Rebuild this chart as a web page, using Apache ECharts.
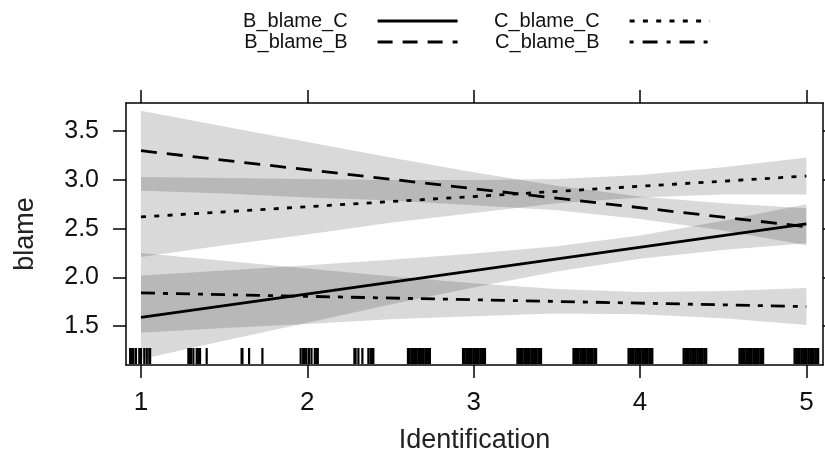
<!DOCTYPE html>
<html>
<head>
<meta charset="utf-8">
<script src="https://cdn.jsdelivr.net/npm/echarts@6/dist/echarts.min.js"></script>
<style>html,body{margin:0;padding:0;background:#fff}#c{width:825px;height:459px}</style>
</head>
<body>
<div id="c"></div>
<script>
// ---- data ----
const seriesNames = ['B_blame_C', 'B_blame_B', 'C_blame_C', 'C_blame_B'];
const lineX = [1, 5];
const B_blame_C = [1.59, 2.55];
const B_blame_B = [3.30, 2.52];
const C_blame_C = [2.62, 3.04];
const C_blame_B = [1.84, 1.70];

const bandX = [1, 1.5, 2, 2.5, 3, 3.5, 4, 4.5, 5];
const B_blame_C_lower = [1.16, 1.35, 1.535, 1.72, 1.895, 2.06, 2.19, 2.28, 2.35];
const B_blame_C_upper = [2.02, 2.07, 2.125, 2.18, 2.245, 2.32, 2.43, 2.58, 2.75];
const B_blame_B_lower = [2.89, 2.86, 2.82, 2.79, 2.74, 2.69, 2.60, 2.48, 2.33];
const B_blame_B_upper = [3.71, 3.55, 3.39, 3.23, 3.08, 2.94, 2.83, 2.76, 2.71];
const C_blame_C_lower = [2.21, 2.33, 2.44, 2.56, 2.66, 2.76, 2.82, 2.85, 2.85];
const C_blame_C_upper = [3.03, 3.02, 3.01, 3.00, 3.00, 3.01, 3.05, 3.13, 3.23];
const C_blame_B_lower = [1.43, 1.48, 1.52, 1.57, 1.60, 1.63, 1.62, 1.58, 1.51];
const C_blame_B_upper = [2.25, 2.17, 2.09, 2.01, 1.94, 1.88, 1.85, 1.86, 1.89];

// rug of observed Identification values (jittered)
const rugX = [
  0.935, 0.945, 0.955, 0.97, 0.99, 1.0, 1.02, 1.035, 1.05, 1.055,
  1.285, 1.29, 1.30, 1.315, 1.335, 1.345, 1.355, 1.395,
  1.605, 1.61, 1.65, 1.73,
  1.96, 1.975, 1.985, 1.995, 2.01, 2.025, 2.045, 2.055, 2.063,
  2.283, 2.29, 2.307, 2.331, 2.367, 2.38, 2.39, 2.397,
  2.605, 2.615, 2.626, 2.636, 2.647, 2.657, 2.668, 2.678, 2.689, 2.699, 2.71, 2.72, 2.731, 2.737,
  2.936, 2.946, 2.957, 2.967, 2.978, 2.988, 2.999, 3.009, 3.02, 3.03, 3.041, 3.051, 3.062, 3.068,
  3.263, 3.273, 3.284, 3.294, 3.305, 3.315, 3.326, 3.336, 3.347, 3.357, 3.368, 3.378, 3.389, 3.399, 3.405,
  3.600, 3.610, 3.621, 3.631, 3.642, 3.652, 3.663, 3.673, 3.684, 3.694, 3.705, 3.715, 3.726, 3.736,
  3.931, 3.941, 3.952, 3.962, 3.973, 3.983, 3.994, 4.004, 4.015, 4.025, 4.036, 4.046, 4.057, 4.067, 4.074,
  4.262, 4.272, 4.283, 4.293, 4.304, 4.314, 4.325, 4.335, 4.346, 4.356, 4.367, 4.377, 4.388, 4.398,
  4.598, 4.608, 4.619, 4.629, 4.640, 4.650, 4.661, 4.671, 4.682, 4.692, 4.703, 4.713, 4.724, 4.734, 4.740,
  4.929, 4.939, 4.950, 4.960, 4.971, 4.981, 4.992, 5.002, 5.013, 5.023, 5.034, 5.044, 5.055, 5.065, 5.071
];

const xTicks = [1, 2, 3, 4, 5];
const yTicks = [1.5, 2.0, 2.5, 3.0, 3.5];
const xMin = 0.91, xMax = 5.10, yMin = 1.10, yMax = 3.79;

// ---- chart ----
const FONT = 'Liberation Sans, Arial, sans-serif';
const bands = [
  [B_blame_C_lower, B_blame_C_upper],
  [B_blame_B_lower, B_blame_B_upper],
  [C_blame_C_lower, C_blame_C_upper],
  [C_blame_B_lower, C_blame_B_upper]
];
const lineValues = [B_blame_C, B_blame_B, C_blame_C, C_blame_B];
const dashes = ['solid', [16, 10], [5, 8.3], [14, 8, 5, 8]];
const legendDashes = ['solid', [15, 10], [5, 8.3], [4, 9, 15, 9]];

const axisLineStyle = { color: '#000', width: 1.5 };
function xAxisDef(pos, withLabels) {
  return {
    type: 'value', min: xMin, max: xMax, position: pos,
    axisLine: { show: true, onZero: false, lineStyle: axisLineStyle },
    axisTick: { show: true, length: 13, customValues: xTicks, lineStyle: axisLineStyle },
    axisLabel: { show: withLabels, customValues: xTicks, margin: 25, fontSize: 26, color: '#111', fontFamily: FONT },
    splitLine: { show: false },
    name: withLabels ? 'Identification' : '',
    nameLocation: 'middle', nameGap: 62,
    nameTextStyle: { fontSize: 27, color: '#222', fontFamily: FONT }
  };
}
function yAxisDef(pos, withLabels) {
  return {
    type: 'value', min: yMin, max: yMax, position: pos,
    axisLine: { show: true, onZero: false, lineStyle: axisLineStyle },
    axisTick: { show: true, length: 13, customValues: yTicks, lineStyle: axisLineStyle },
    axisLabel: { show: withLabels, customValues: yTicks, margin: 27, fontSize: 25, color: '#111', fontFamily: FONT,
      formatter: v => v.toFixed(1) },
    splitLine: { show: false },
    name: withLabels ? 'blame' : '',
    nameLocation: 'middle', nameGap: 87,
    nameTextStyle: { fontSize: 27, color: '#222', fontFamily: FONT }
  };
}

const legendPos = [
  { right: 366, top: 11 },
  { right: 366, top: 32 },
  { right: 114, top: 11 },
  { right: 114, top: 32 }
];
const legends = seriesNames.map((n, i) => ({
  data: [n], right: legendPos[i].right, top: legendPos[i].top,
  align: 'right', orient: 'horizontal', padding: 0,
  itemWidth: 80, itemHeight: 14, selectedMode: false,
  itemStyle: { opacity: 0, color: 'rgba(0,0,0,0)', borderColor: 'rgba(0,0,0,0)', borderWidth: 0 },
  lineStyle: { type: legendDashes[i], width: 2.8, color: '#000', cap: 'butt' },
  textStyle: { fontSize: 20, color: '#111', fontFamily: FONT, padding: [0, 25, 0, 0] }
}));

const series = [];
series.push({
  name: 'bands', type: 'custom', silent: true, z: 1,
  xAxisIndex: 0, yAxisIndex: 0,
  data: bands.map(b => [bandX[0], b[0][0]]),
  encode: { x: 0, y: 1 },
  renderItem: function (params, api) {
    const b = bands[params.dataIndex];
    const pts = [];
    for (let i = 0; i < bandX.length; i++) pts.push(api.coord([bandX[i], b[1][i]]));
    for (let i = bandX.length - 1; i >= 0; i--) pts.push(api.coord([bandX[i], b[0][i]]));
    return { type: 'polygon', shape: { points: pts }, style: { fill: 'rgba(0,0,0,0.15)' } };
  }
});
seriesNames.forEach((n, i) => {
  series.push({
    name: n, type: 'line', silent: true, z: 3, symbol: 'none',
    data: lineX.map((x, j) => [x, lineValues[i][j]]),
    lineStyle: { color: '#000', width: 2.8, type: dashes[i], cap: 'butt' },
    itemStyle: { color: '#000' }
  });
});
series.push({
  name: 'rug', type: 'custom', silent: true, z: 4,
  xAxisIndex: 0, yAxisIndex: 0,
  data: rugX.map(v => [v, yMin]),
  encode: { x: 0, y: 1 },
  renderItem: function (params, api) {
    const p = api.coord([api.value(0), api.value(1)]);
    return { type: 'line', shape: { x1: p[0], y1: p[1] - 1, x2: p[0], y2: p[1] - 17 },
      style: { stroke: '#000', lineWidth: 2.2 } };
  }
});

const chart = echarts.init(document.getElementById('c'), null, { renderer: 'canvas' });
chart.setOption({
  animation: false,
  backgroundColor: '#fff',
  legend: legends,
  grid: { left: 126, right: 2, top: 103, bottom: 87, show: false, containLabel: false },
  xAxis: [xAxisDef('bottom', true), xAxisDef('top', false)],
  yAxis: [yAxisDef('left', true), yAxisDef('right', false)],
  series: series
});
</script>
</body>
</html>
